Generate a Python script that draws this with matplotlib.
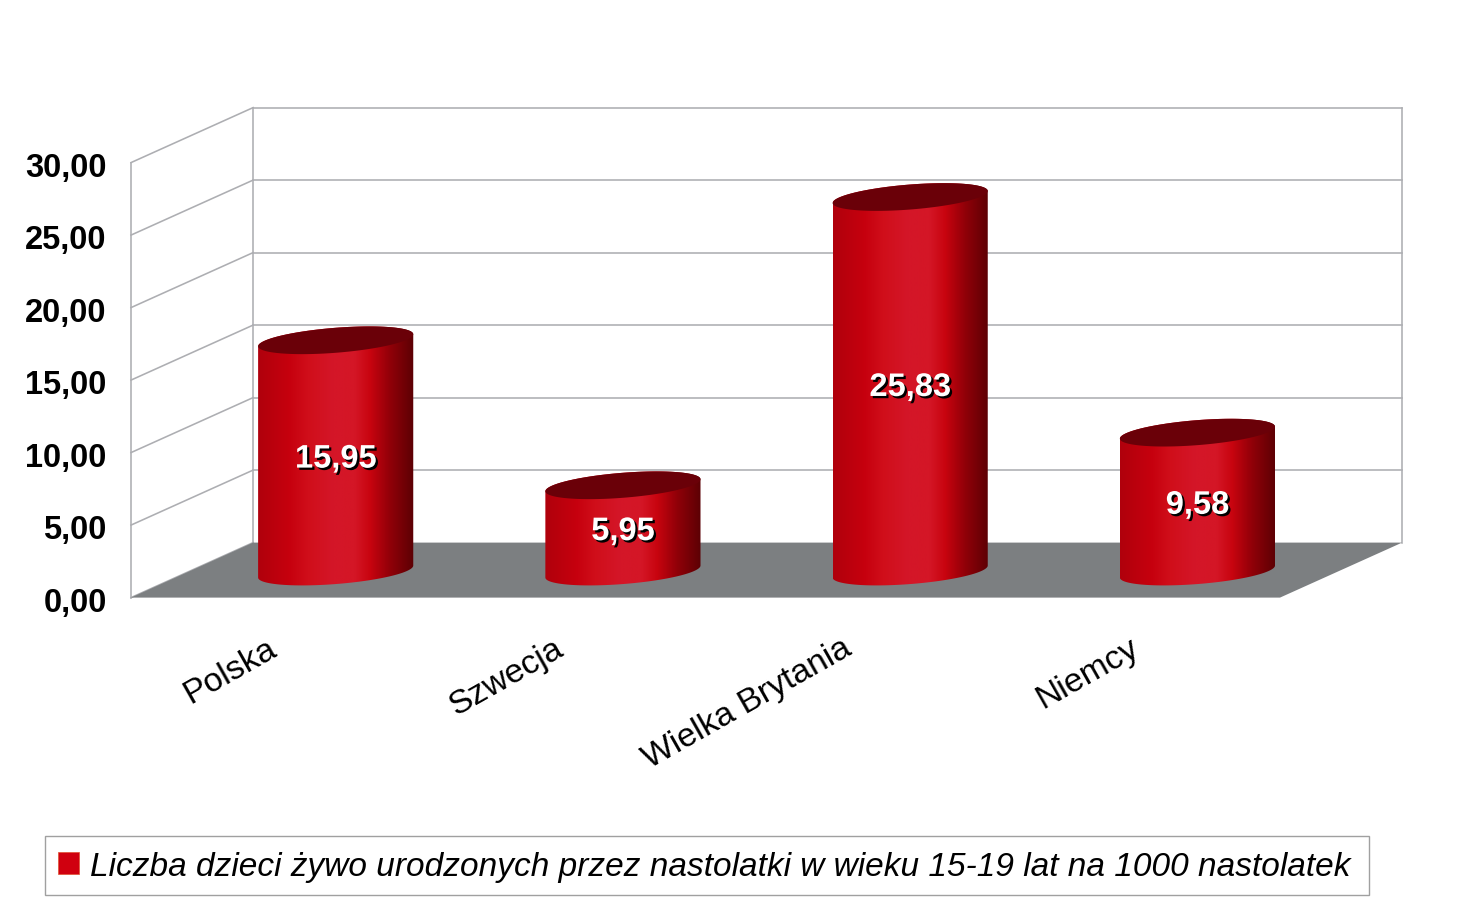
import numpy as np
import matplotlib
matplotlib.use('Agg')
import matplotlib.pyplot as plt
import matplotlib.patheffects as pe
from matplotlib.colors import LinearSegmentedColormap
from matplotlib.patches import Patch, Polygon, Rectangle
from matplotlib.transforms import ScaledTranslation

plt.rcParams['font.family'] = ['Liberation Sans', 'DejaVu Sans']

# dane
kraje = ['Polska', 'Szwecja', 'Wielka Brytania', 'Niemcy']
wartosci = [15.95, 5.95, 25.83, 9.58]
etykiety = ['15,95', '5,95', '25,83', '9,58']
y_ticks = [0, 5, 10, 15, 20, 25, 30]
y_labels = ['0,00', '5,00', '10,00', '15,00', '20,00', '25,00', '30,00']
seria = 'Liczba dzieci żywo urodzonych przez nastolatki w wieku 15-19 lat na 1000 nastolatek'

W, H = 1482, 912
fig = plt.figure(figsize=(W / 100, H / 100), dpi=100, facecolor='white')

# os = przednia plaszczyzna wykresu, glebia 3D liczona w jednostkach danych
ax = fig.add_axes([131 / W, (H - 598.6) / H, 1149 / W, 435 / H])
ax.set_frame_on(False)
DX, DY = 122 / 287, 55 / 14.5

GRID = '#adaeb2'
LW = 1.15
for v in y_ticks:
    ax.plot([0, DX], [v, v + DY], color=GRID, lw=LW, clip_on=False, zorder=1)
    if v > 0:
        ax.plot([DX, 4 + DX], [v + DY, v + DY], color=GRID, lw=LW, clip_on=False, zorder=1)
ax.plot([0, 0], [0, 30], color=GRID, lw=LW, clip_on=False, zorder=1)
ax.plot([DX, DX], [DY, 30 + DY], color=GRID, lw=LW, clip_on=False, zorder=1)
ax.plot([4 + DX, 4 + DX], [DY, 30 + DY], color=GRID, lw=LW, clip_on=False, zorder=1)

# podloga
ax.add_patch(Polygon([[0, 0], [DX, DY], [4 + DX, DY], [4, 0]], closed=True,
                     facecolor='#7c7f81', edgecolor='none', clip_on=False, zorder=2))

# walce
cmap = LinearSegmentedColormap.from_list('walec', [
    (0.00, '#b0000c'), (0.20, '#c6000e'), (0.32, '#d00e1a'), (0.48, '#d41628'),
    (0.62, '#d41626'), (0.72, '#c8040f'), (0.85, '#900008'), (1.00, '#5c0004')])
grad = np.linspace(0, 1, 256).reshape(1, -1)
A, B, S = 77.5 / 287, 12.5 / 14.5, 6 / 14.5
t = np.linspace(0, 2 * np.pi, 181)


def elipsa(xc, yc, t):
    return xc + A * np.cos(t), yc + B * np.sin(t) + S * np.cos(t)


for i, (v, txt) in enumerate(zip(wartosci, etykiety)):
    xc = i + 0.5 + DX / 2
    y0 = DY / 2 - 0.1
    # obrys boku: dolna polowa elipsy podstawy i gorna polowa elipsy wierzcholka
    xb, yb = elipsa(xc, y0, np.linspace(np.pi, 2 * np.pi, 91))
    xt, yt = elipsa(xc, y0 + v, np.linspace(0, np.pi, 91))
    bok = Polygon(np.c_[np.r_[xb, xt], np.r_[yb, yt]], closed=True, facecolor='none',
                  edgecolor='none', transform=ax.transData, clip_on=False)
    ax.add_patch(bok)
    ymin, ymax = y0 - 2, y0 + v + 2
    im = ax.imshow(grad, extent=[xc - A, xc + A, ymin, ymax], aspect='auto', cmap=cmap,
                   interpolation='bilinear', zorder=3)
    im.set_clip_path(bok)
    xe, ye = elipsa(xc, y0 + v, t)
    ax.add_patch(Polygon(np.c_[xe, ye], closed=True, facecolor='#6a0008', edgecolor='none',
                         clip_on=False, zorder=4))
    ax.text(xc, y0 + v / 2 - 0.22, txt, color='white', fontsize=23.5, fontweight='bold', ha='center',
            va='center', zorder=5,
            path_effects=[pe.withSimplePatchShadow(offset=(1.6, -1.6), shadow_rgbFace='black', alpha=1)])

ax.set_xlim(0, 4)
ax.set_ylim(0, 30)
ax.set_yticks(y_ticks)
ax.set_yticklabels(y_labels, fontsize=23.5, fontweight='bold', color='black')
ax.set_xticks(np.arange(4) + 0.5)
ax.set_xticklabels(kraje, fontsize=24.3, rotation=29.5, ha='right', va='top', rotation_mode='anchor')
ax.tick_params(axis='y', length=0, pad=17.5)
ax.tick_params(axis='x', length=0, pad=24)

# przesuniecie podpisow o kilka pikseli
for lab in ax.get_xticklabels():
    lab.set_transform(lab.get_transform() + ScaledTranslation(-0.08, -0.01, fig.dpi_scale_trans))
for lab in ax.get_yticklabels():
    lab.set_transform(lab.get_transform() + ScaledTranslation(0, -0.01, fig.dpi_scale_trans))

# ramka legendy osobno, bo odstep z prawej jest wiekszy niz z lewej
fig.add_artist(Rectangle((44.5 / W, (H - 895.5) / H), 1324 / W, 58.5 / H, transform=fig.transFigure,
                         facecolor='white', edgecolor='#a0a0a0', lw=1.0))
leg = fig.legend(handles=[Patch(facecolor='#d0000f', edgecolor='#e05030', lw=0.5)], labels=[seria],
                 loc='lower left', bbox_to_anchor=(45 / W, (H - 896) / H), borderaxespad=0,
                 frameon=False, prop={'size': 24, 'style': 'italic'}, handlelength=0.62,
                 handleheight=0.62, handletextpad=0.34, borderpad=0.4)

plt.savefig('out.png', dpi=100)
